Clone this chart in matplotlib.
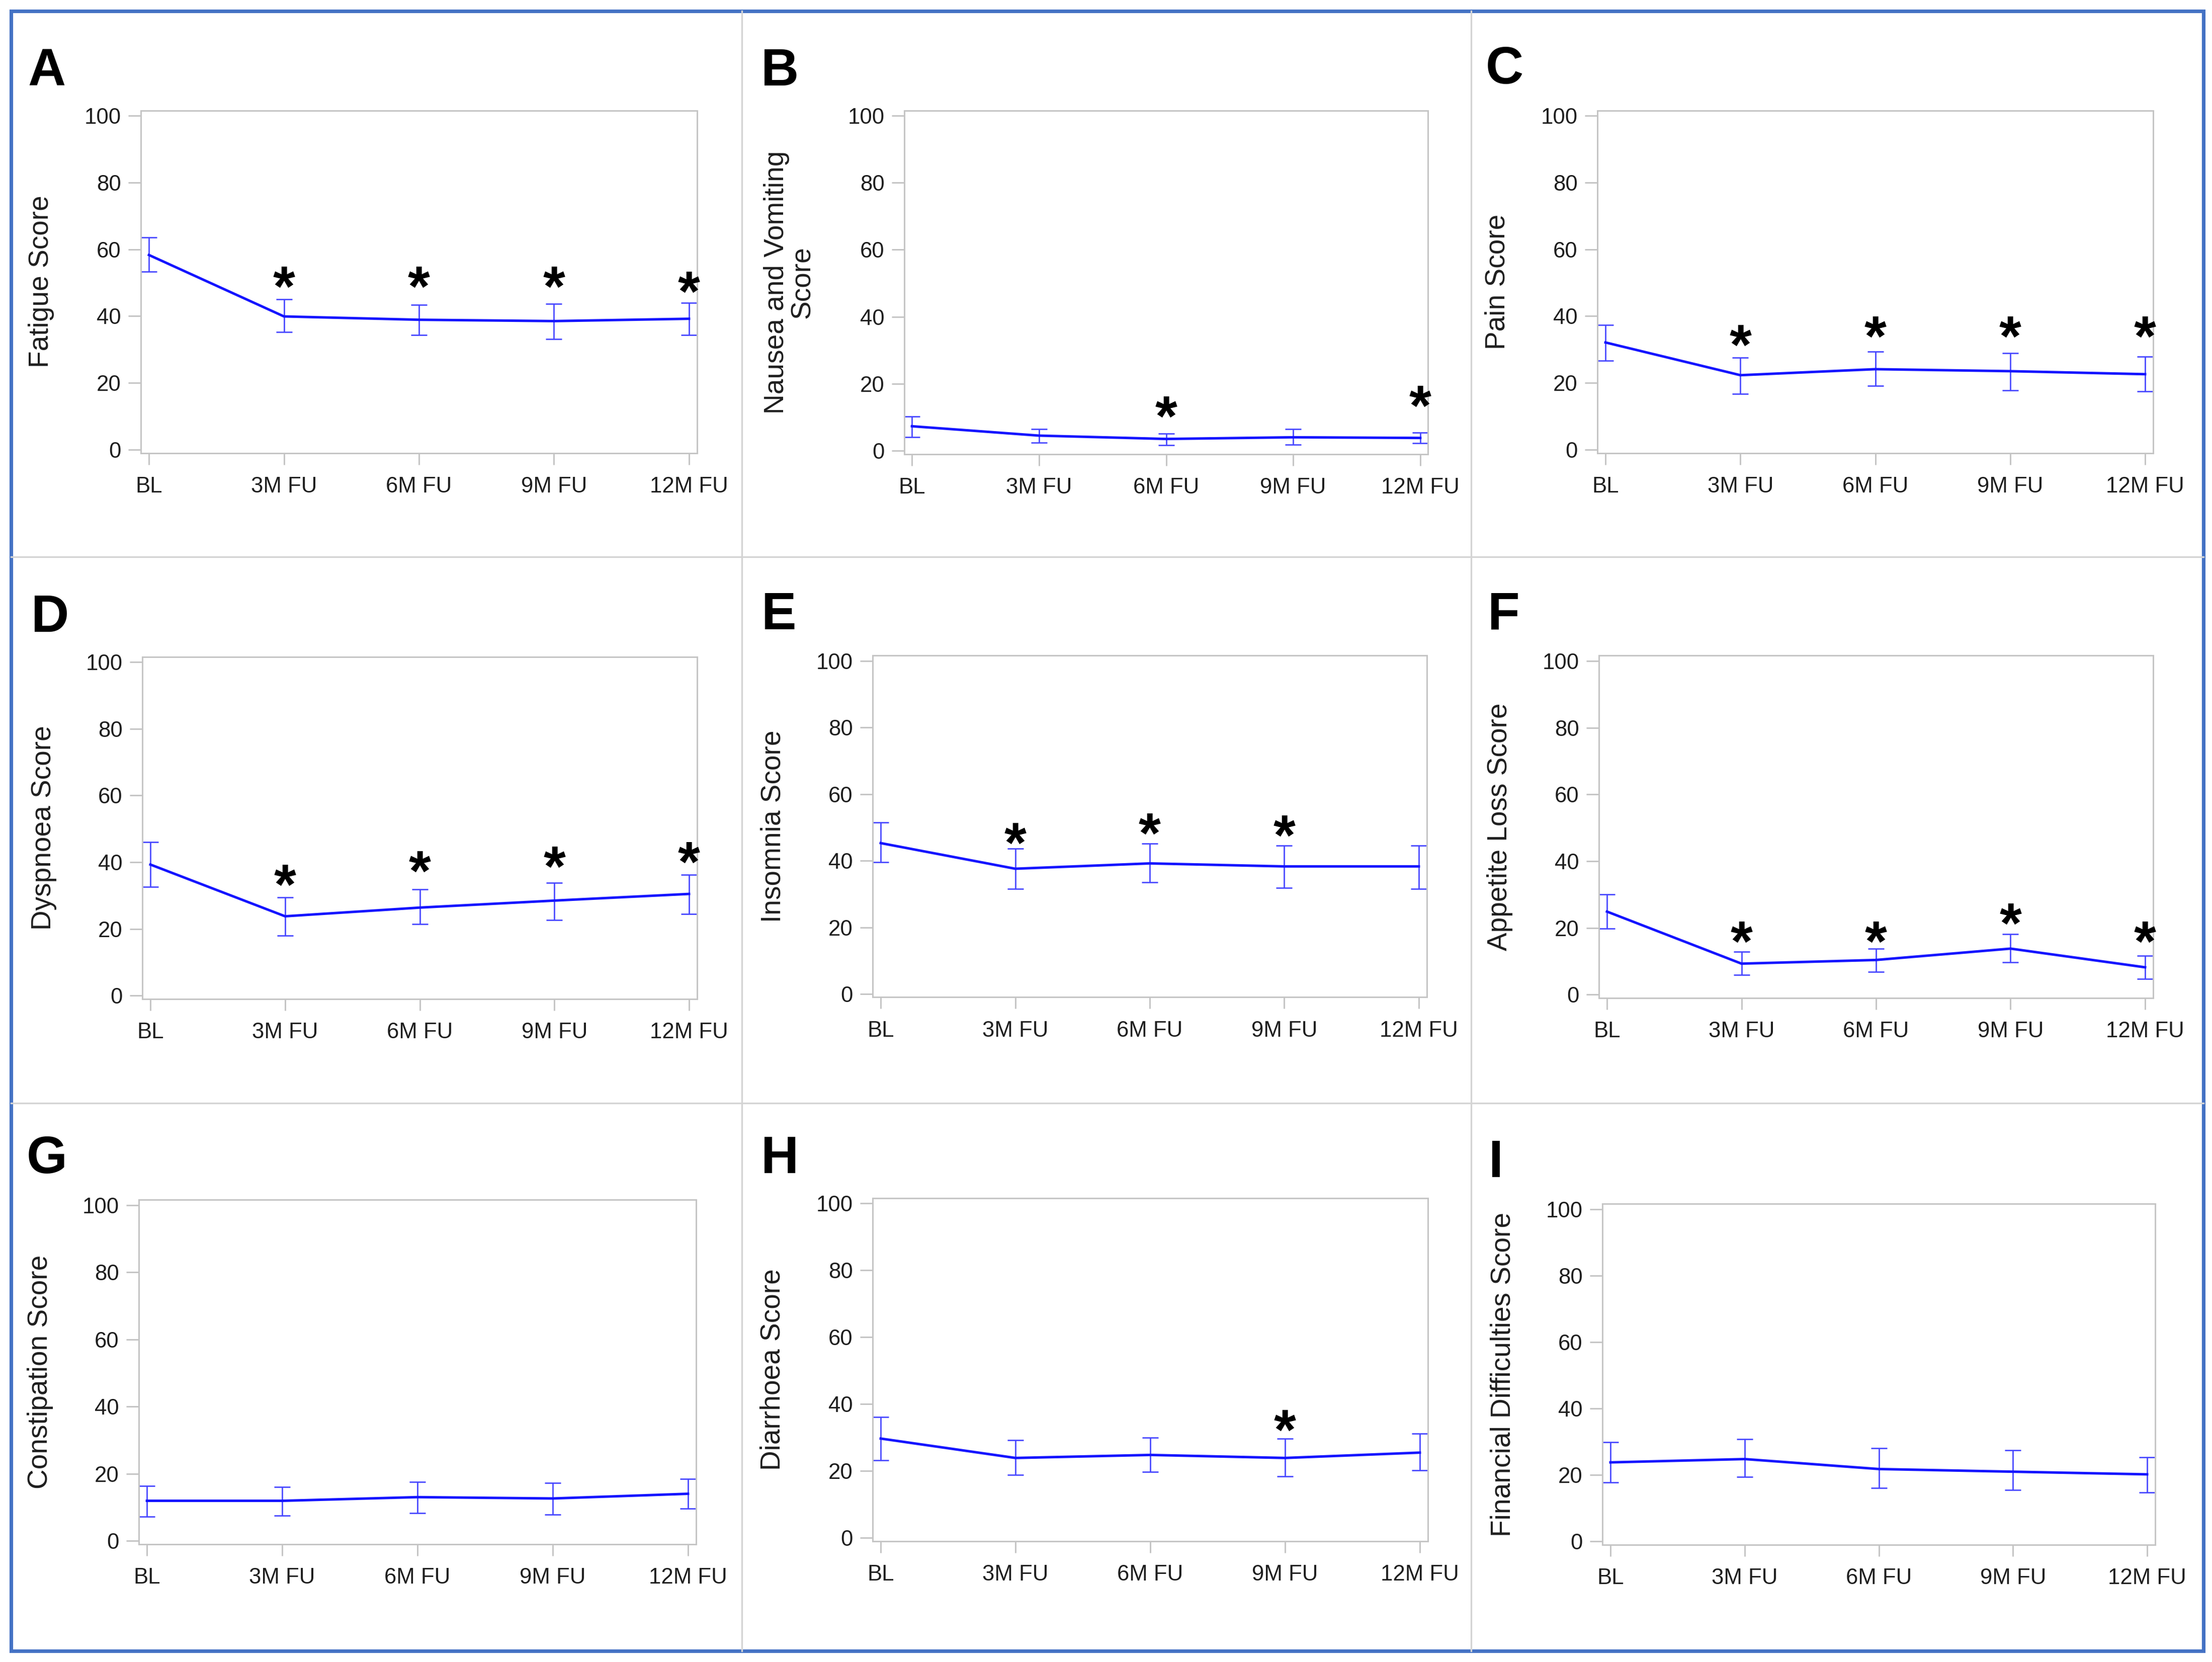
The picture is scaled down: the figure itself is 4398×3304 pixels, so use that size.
import matplotlib
matplotlib.use("Agg")
import matplotlib.pyplot as plt
from matplotlib.lines import Line2D
from matplotlib.patches import Rectangle
import numpy as np

plt.rcParams['font.family'] = ['Liberation Sans', 'DejaVu Sans']

# ---------------- data ----------------
time_labels = ['BL', '3M FU', '6M FU', '9M FU', '12M FU']

fatigue_mean = [58.3, 39.9, 38.9, 38.5, 39.2]
fatigue_lo = [53.3, 35.2, 34.4, 33.2, 34.4]
fatigue_hi = [63.5, 45.1, 43.3, 43.7, 43.9]
fatigue_star = [None, 52.6, 52.6, 52.6, 51.0]

nausea_mean = [7.3, 4.5, 3.5, 4.0, 3.8]
nausea_lo = [4.1, 2.4, 1.7, 1.8, 2.2]
nausea_hi = [10.2, 6.5, 5.1, 6.5, 5.4]
nausea_star = [None, None, 13.9, None, 17.1]

pain_mean = [32.1, 22.3, 24.1, 23.5, 22.6]
pain_lo = [26.7, 16.7, 19.1, 17.7, 17.4]
pain_hi = [37.4, 27.5, 29.3, 28.9, 27.9]
pain_star = [None, 35.0, 37.6, 37.6, 37.6]

dyspnoea_mean = [39.3, 23.8, 26.4, 28.5, 30.5]
dyspnoea_lo = [32.6, 18.0, 21.4, 22.7, 24.5]
dyspnoea_hi = [46.0, 29.5, 31.9, 33.9, 36.2]
dyspnoea_star = [None, 37.0, 41.0, 42.4, 43.8]

insomnia_mean = [45.3, 37.6, 39.2, 38.3, 38.3]
insomnia_lo = [39.5, 31.5, 33.5, 31.9, 31.5]
insomnia_hi = [51.5, 43.6, 45.1, 44.6, 44.6]
insomnia_star = [None, 49.0, 52.0, 51.4, None]

appetite_mean = [24.9, 9.3, 10.4, 13.8, 8.2]
appetite_lo = [19.8, 5.9, 6.9, 9.7, 4.8]
appetite_hi = [30.0, 12.8, 13.8, 18.2, 11.7]
appetite_star = [None, 19.7, 19.7, 25.0, 19.7]

constipation_mean = [11.9, 11.9, 13.0, 12.6, 14.0]
constipation_lo = [7.2, 7.5, 8.2, 7.8, 9.6]
constipation_hi = [16.3, 16.0, 17.6, 17.3, 18.4]
constipation_star = [None, None, None, None, None]

diarrhoea_mean = [29.7, 23.9, 24.8, 23.9, 25.5]
diarrhoea_lo = [23.2, 18.8, 19.7, 18.4, 20.2]
diarrhoea_hi = [36.1, 29.2, 30.0, 29.7, 31.1]
diarrhoea_star = [None, None, None, 36.0, None]

financial_mean = [23.8, 24.8, 21.8, 21.0, 20.2]
financial_lo = [17.7, 19.5, 16.1, 15.5, 14.8]
financial_hi = [29.9, 30.8, 28.1, 27.4, 25.4]
financial_star = [None, None, None, None, None]

panels = [
    ('A', 'Fatigue Score', fatigue_mean, fatigue_lo, fatigue_hi, fatigue_star),
    ('B', 'Nausea and Vomiting\nScore', nausea_mean, nausea_lo, nausea_hi, nausea_star),
    ('C', 'Pain Score', pain_mean, pain_lo, pain_hi, pain_star),
    ('D', 'Dyspnoea Score', dyspnoea_mean, dyspnoea_lo, dyspnoea_hi, dyspnoea_star),
    ('E', 'Insomnia Score', insomnia_mean, insomnia_lo, insomnia_hi, insomnia_star),
    ('F', 'Appetite Loss Score', appetite_mean, appetite_lo, appetite_hi, appetite_star),
    ('G', 'Constipation Score', constipation_mean, constipation_lo, constipation_hi, constipation_star),
    ('H', 'Diarrhoea Score', diarrhoea_mean, diarrhoea_lo, diarrhoea_hi, diarrhoea_star),
    ('I', 'Financial Difficulties Score', financial_mean, financial_lo, financial_hi, financial_star),
]

# ---------------- layout (pixels) ----------------
W, H = 4398, 3304
DPI = 300
fig = plt.figure(figsize=(W / DPI, H / DPI), dpi=DPI)
fig.patch.set_facecolor('white')

# axes frames: left, top, right, bottom
frames = [
    (280, 219.5, 1386, 900.5),
    (1798, 219.5, 2839, 902.6),
    (3176, 219.5, 4281, 900.5),
    (283, 1305.5, 1386, 1986),
    (1735, 1303.4, 2837, 1982.5),
    (3179, 1303.4, 4281, 1984),
    (276, 2385.4, 1384, 3069.6),
    (1735, 2381.8, 2839, 3063.9),
    (3186, 2393.2, 4285, 3071),
]
# panel letter: left x, baseline y
letter_pos = [
    (55, 170), (1513, 170), (2954, 166),
    (62, 1256), (1514, 1251), (2958, 1251),
    (53, 2332), (1513, 2332), (2960, 2340),
]
ylabel_x = [-0.179, -0.219, -0.180, -0.178, -0.179, -0.179, -0.177, -0.180, -0.180]

LINE_C = '#1414ff'
ERR_C = '#4646ff'
FRAME_C = '#c4c4c4'
TXT_C = '#1e1e1e'
STAR_FS = 27

x = np.arange(len(time_labels))

def fx(px):
    return px / W

def fy(py):
    return 1 - py / H

for (letter, ylab, mean, lo, hi, star), fr, lp, ylx in zip(panels, frames, letter_pos, ylabel_x):
    l, t, r, b = fr
    ax = fig.add_axes([fx(l), fy(b), (r - l) / W, (b - t) / H])
    mean = np.array(mean)
    lo = np.array(lo)
    hi = np.array(hi)
    ax.errorbar(x, mean, yerr=[mean - lo, hi - mean], fmt='none', ecolor=ERR_C,
                elinewidth=0.65, capsize=3.8, capthick=0.65, zorder=2)
    ax.plot(x, mean, color=LINE_C, lw=1.2, zorder=3)
    for xi, s in zip(x, star):
        if s is not None:
            ax.annotate('*', (xi, s), xytext=(0, -0.30 * STAR_FS), textcoords='offset points',
                        ha='center', va='center', fontsize=STAR_FS, fontweight='bold',
                        color='black', annotation_clip=False)
    ax.set_xlim(-0.06, 4.06)
    ax.set_ylim(-1.0, 101.6)
    ax.set_xticks(x)
    ax.set_xticklabels(time_labels)
    ax.set_yticks([0, 20, 40, 60, 80, 100])
    for sp in ax.spines.values():
        sp.set_color(FRAME_C)
        sp.set_linewidth(0.7)
    ax.tick_params(axis='both', direction='out', color=FRAME_C, width=0.7,
                   labelsize=10.5, labelcolor=TXT_C)
    ax.tick_params(axis='y', length=6, pad=3.5)
    ax.tick_params(axis='x', length=5.6, pad=5.5)
    ax.set_ylabel(ylab, fontsize=13.2, color=TXT_C, va='center', ha='center',
                  linespacing=1.0)
    ax.yaxis.set_label_coords(ylx, 0.5)
    fig.text(fx(lp[0]), fy(lp[1]), letter, fontsize=25, fontweight='bold',
             ha='left', va='baseline', color='black')

# panel separators
SEP_C = '#d4d4d4'
for xs in (1475, 2925):
    fig.add_artist(Line2D([fx(xs), fx(xs)], [fy(22), fy(3282)], color=SEP_C, lw=0.8))
for ys in (1107, 2193):
    fig.add_artist(Line2D([fx(22), fx(4381)], [fy(ys), fy(ys)], color=SEP_C, lw=0.8))

# outer blue border
fig.add_artist(Rectangle((fx(22), fy(3282)), (4381 - 22) / W, (3282 - 22) / H,
                         fill=False, edgecolor='#4472c4', lw=1.7))

fig.savefig('out.png', dpi=DPI, facecolor='white')
